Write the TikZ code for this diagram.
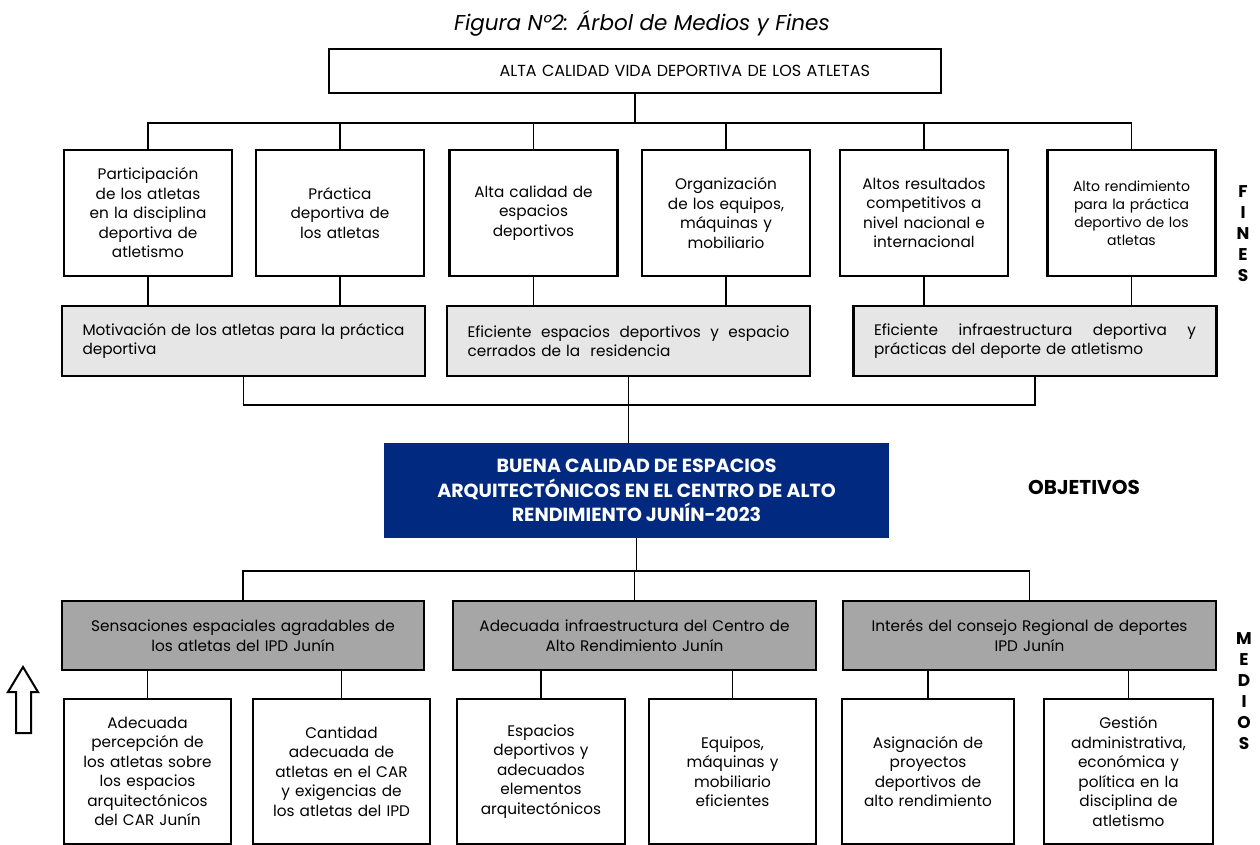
\documentclass[tikz,border=0pt]{standalone}
\usepackage{fontspec}
\setmainfont{Poppins}
\definecolor{navy}{RGB}{0,41,127}
\definecolor{lgray}{RGB}{230,230,230}
\definecolor{dgray}{RGB}{166,166,166}
\begin{document}
\begin{tikzpicture}[x=1pt,y=-1pt,
  box/.style={draw,line width=2.5pt,inner sep=0pt,align=center,
    font=\fontsize{15.3}{19.5}\selectfont},
  gbox/.style={box,fill=lgray,minimum width=363pt,minimum height=70pt,text width=322pt,align=left},
  lbox/.style={box,fill=dgray,minimum height=69pt,text width=350pt},
  topbox/.style={box,minimum width=168pt,minimum height=126pt,text width=160pt},
  botbox/.style={box,minimum height=145pt,text width=160pt},
  conn/.style={line width=1.5pt},
  side/.style={font=\fontsize{17}{21}\selectfont\bfseries,align=center,inner sep=0pt},
]
\useasboundingbox (0,0) rectangle (1260,845);
\clip (0,0) rectangle (1260,845);

% title
\node[font=\fontsize{21.5}{24}\selectfont\itshape] (title) at (642,23) {Figura N°2: Árbol de Medios y Fines};

% top box
\node[box,minimum width=612pt,minimum height=44pt,text width=470pt,align=right,
  font=\fontsize{16}{18}\selectfont] (top) at (635,71) {ALTA CALIDAD VIDA DEPORTIVA DE LOS ATLETAS};

% fines row
\node[topbox] (f1) at (148,213) {Participación\\de los atletas\\en la disciplina\\deportiva de\\atletismo};
\node[topbox] (f2) at (340,213) {Práctica\\deportiva de\\los atletas};
\node[topbox] (f3) at (533.5,213) {Alta calidad de\\espacios\\deportivos};
\node[topbox] (f4) at (726,213) {Organización\\de los equipos,\\máquinas y\\mobiliario};
\node[topbox] (f5) at (924,213) {Altos resultados\\competitivos a\\nivel nacional e\\internacional};
\node[topbox,font=\fontsize{14}{18}\selectfont] (f6) at (1131.5,213) {Alto rendimiento\\para la práctica\\deportivo de los\\atletas};

% light gray row
\node[gbox] (g1) at (243.5,341) {\makebox[322pt]{Motivación\hfill de\hfill los\hfill atletas\hfill para\hfill la\hfill práctica}\\deportiva};
\node[gbox] (g2) at (628.5,341) {\makebox[322pt]{Eficiente\hfill espacios\hfill deportivos\hfill y\hfill espacio}\\cerrados de la\ \ residencia};
\node[gbox] (g3) at (1035,341) {\makebox[322pt]{Eficiente\hfill infraestructura\hfill deportiva\hfill y}\\prácticas del deporte de atletismo};

% objective
\node[fill=navy,text=white,inner sep=0pt,minimum width=505pt,minimum height=95pt,align=center,
  font=\fontsize{19}{24.5}\selectfont\bfseries] (obj) at (636.5,490.5)
  {BUENA CALIDAD DE ESPACIOS\\ARQUITECTÓNICOS EN EL CENTRO DE ALTO\\RENDIMIENTO JUNÍN-2023};
\node[font=\fontsize{20}{22}\selectfont\bfseries] (objl) at (1084,487) {OBJETIVOS};

% dark gray row
\node[lbox,minimum width=362pt] (l1) at (243,635.5) {Sensaciones espaciales agradables de\\los atletas del IPD Junín};
\node[lbox,minimum width=363pt] (l2) at (634.5,635.5) {Adecuada infraestructura del Centro de\\Alto Rendimiento Junín};
\node[lbox,minimum width=373pt] (l3) at (1029.5,635.5) {Interés del consejo Regional de deportes\\IPD Junín};

% medios row
\node[botbox,minimum width=167pt] (b1) at (147.5,771.5) {Adecuada\\percepción de\\los atletas sobre\\los espacios\\arquitectónicos\\del CAR Junín};
\node[botbox,minimum width=177pt] (b2) at (341.5,771.5) {Cantidad\\adecuada de\\atletas en el CAR\\y exigencias de\\los atletas del IPD};
\node[botbox,minimum width=168pt] (b3) at (541,771.5) {Espacios\\deportivos y\\adecuados\\elementos\\arquitectónicos};
\node[botbox,minimum width=167pt] (b4) at (732.5,771.5) {Equipos,\\máquinas y\\mobiliario\\eficientes};
\node[botbox,minimum width=172pt] (b5) at (928,771.5) {Asignación de\\proyectos\\deportivos de\\alto rendimiento};
\node[botbox,minimum width=169pt] (b6) at (1128.5,771.5) {Gestión\\administrativa,\\económica y\\política en la\\disciplina de\\atletismo};

% side labels
\node[side] (fines) at (1243,234) {F\\I\\N\\E\\S};
\node[side] (medios) at (1244,691.5) {M\\E\\D\\I\\O\\S};

% connectors: top to fines
\coordinate (bus1) at (635,123);
\draw[conn] (top.south) -- (top.south |- bus1);
\draw[conn] (f1.north) |- (bus1) -| (f6.north);
\foreach \n in {f2,f3,f4,f5} \draw[conn] (\n.north) -- (\n.north |- bus1);
% fines to gray
\foreach \a/\b in {f1/g1,f2/g1,f3/g2,f4/g2,f5/g3,f6/g3} \draw[conn] (\a.south) -- (\a.south |- \b.north);
% gray to objective
\coordinate (bus2) at (633,405);
\draw[conn] (g1.south) |- (bus2) -| (g3.south);
\draw[conn] (g2.south) -- (g2.south |- obj.north);
% objective to dark gray
\coordinate (bus3) at (633,571);
\draw[conn] (obj.south) -- (obj.south |- bus3);
\draw[conn] (l1.north) |- (bus3) -| (l3.north);
\draw[conn] (l2.north) -- (l2.north |- bus3);
% dark gray to medios
\foreach \a/\b in {l1/b1,l1/b2,l2/b3,l2/b4,l3/b5,l3/b6} \draw[conn] (\b.north) -- (\b.north |- \a.south);

% hollow up arrow
\draw[line width=2pt,line join=miter] (23,667) -- (38,692) -- (31,692) -- (31,733) -- (16,733) -- (16,692) -- (8,692) -- cycle;
\end{tikzpicture}
\end{document}
